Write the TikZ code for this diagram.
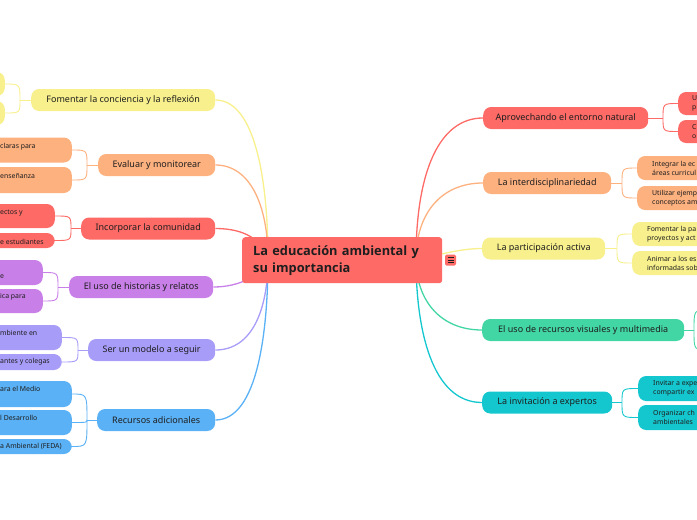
\documentclass[tikz,border=0pt]{standalone}
\usepackage{fontspec}
\setmainfont{Noto Sans}
\newfontfamily\titlefont{Open Sans}
\usetikzlibrary{backgrounds}
\definecolor{cred}{HTML}{FE6A66}
\definecolor{corg}{HTML}{FDB17F}
\definecolor{cyel}{HTML}{F7F08C}
\definecolor{cpur}{HTML}{C880E8}
\definecolor{clav}{HTML}{A79CF8}
\definecolor{cblu}{HTML}{5BB1F5}
\definecolor{cgrn}{HTML}{42D6A4}
\definecolor{ccya}{HTML}{14C7CF}
\definecolor{txt}{HTML}{1E1E1E}
\begin{document}
\begin{tikzpicture}[x=1pt,y=-1pt,
  mainbox/.style={rounded corners=8pt, inner sep=0pt, font=\fontsize{9}{11}\selectfont, text=txt, minimum height=22pt, anchor=west},
  leafbox/.style={rounded corners=8pt, inner sep=0pt, minimum width=150pt},
  frag/.style={font=\fontsize{6.9}{9}\selectfont, text=txt, inner sep=0pt, align=left},
  bline/.style={line width=1.3pt},
  lline/.style={line width=0.9pt}]
\useasboundingbox (0,0) rectangle (697,520);

% central node
\node[fill=cred, rounded corners=3pt, minimum width=200pt, minimum height=46pt, text width=178pt, inner xsep=11pt, align=left, anchor=north west, font=\titlefont\bfseries\fontsize{12.8}{17}\selectfont, text=txt] (center) at (242,237) {La educación ambiental y\\su importancia};
\coordinate (hubL) at (268,259);
\coordinate (hubR) at (416,259);
\node[fill=cred, rounded corners=1.5pt, minimum size=11pt, inner sep=0pt] (icon) at (450.5,260) {};
\draw[line width=0.7pt, txt] (icon.center) ++(-3,-2.5) -- ++(6,0);
\draw[line width=0.7pt, txt] (icon.center) ++(-3,0) -- ++(6,0);
\draw[line width=0.7pt, txt] (icon.center) ++(-3,2.5) -- ++(6,0);

% ---------- left main nodes ----------
\node[mainbox, fill=cyel, minimum width=184pt] (yM) at (31,100) {Fomentar la conciencia y la reflexión};
\node[mainbox, fill=corg, minimum width=117pt] (oM) at (98,165) {Evaluar y monitorear};
\node[mainbox, fill=cred, minimum width=134pt] (rM) at (81,228.5) {Incorporar la comunidad};
\node[mainbox, fill=cpur, minimum width=144pt] (pM) at (69,287) {El uso de historias y relatos};
\node[mainbox, fill=clav, minimum width=127pt] (vM) at (88,350) {Ser un modelo a seguir};
\node[mainbox, fill=cblu, minimum width=118pt] (bM) at (97,420) {Recursos adicionales};

% ---------- right main nodes ----------
\node[mainbox, fill=cred, minimum width=165pt] (aM) at (483,118) {Aprovechando el entorno natural};
\node[mainbox, fill=corg, minimum width=128pt] (iM) at (483,183) {La interdisciplinariedad};
\node[mainbox, fill=cyel, minimum width=123pt] (yaM) at (482,248.5) {La participación activa};
\node[mainbox, fill=cgrn, minimum width=202pt] (gM) at (482,330) {El uso de recursos visuales y multimedia};
\node[mainbox, fill=ccya, minimum width=130pt] (cM) at (482,402.5) {La invitación a expertos};

% ---------- left leaves ----------
\node[leafbox, fill=cyel, minimum height=24pt, anchor=east] (yL1) at (5,84) {};
\node[leafbox, fill=cyel, minimum height=24pt, anchor=east] (yL2) at (5,113) {};

\node[leafbox, fill=corg, minimum height=25pt, anchor=east] (oL1) at (72,150) {};
\node[leafbox, fill=corg, minimum height=26pt, anchor=east] (oL2) at (72,180) {};
\node[frag, anchor=west] (oT1) at (0,147) {claras para};
\node[frag, anchor=west] (oT2) at (0,176) {enseñanza};

\node[leafbox, fill=cred, minimum height=24pt, anchor=east] (rL1) at (55,216) {};
\node[leafbox, fill=cred, minimum height=15pt, anchor=east] (rL2) at (55,240.5) {};
\node[frag, anchor=west] (rT1) at (0,213) {ectos y};
\node[frag, anchor=west] (rT2) at (0,241.5) {e estudiantes};

\node[leafbox, fill=cpur, minimum height=25pt, anchor=east] (pL1) at (43,272.5) {};
\node[leafbox, fill=cpur, minimum height=24pt, anchor=east] (pL2) at (43,301) {};
\node[frag, anchor=west] (pT1) at (0,277) {e};
\node[frag, anchor=west] (pT2) at (0,297) {ica para};

\node[leafbox, fill=clav, minimum height=25pt, anchor=east] (vL1) at (62,337.5) {};
\node[leafbox, fill=clav, minimum height=16pt, anchor=east] (vL2) at (62,362) {};
\node[frag, anchor=west] (vT1) at (0,333) {mbiente en};
\node[frag, anchor=west] (vT2) at (0,362) {antes y colegas};

\node[leafbox, fill=cblu, minimum height=26pt, anchor=east] (bL1) at (72,394) {};
\node[leafbox, fill=cblu, minimum height=25pt, anchor=east] (bL2) at (72,422.5) {};
\node[leafbox, fill=cblu, minimum height=15pt, anchor=east] (bL3) at (72,446.5) {};
\node[frag, anchor=west] (bT1) at (0,389) {ara el Medio};
\node[frag, anchor=west] (bT2) at (0,418) {l Desarrollo};
\node[frag, anchor=west] (bT3) at (0,446.5) {a Ambiental (FEDA)};

% ---------- right leaves ----------
\node[leafbox, fill=cred, minimum height=23pt, anchor=west] (aL1) at (678,103.5) {};
\node[leafbox, fill=cred, minimum height=23pt, anchor=west] (aL2) at (678,131.5) {};
\node[frag, anchor=west] (aT1) at (692,103.5) {U\\p};
\node[frag, anchor=west] (aT2) at (692,131.5) {C\\o};

\node[leafbox, fill=corg, minimum height=24pt, anchor=west] (iL1) at (637,168) {};
\node[leafbox, fill=corg, minimum height=24pt, anchor=west] (iL2) at (637,198) {};
\node[frag, anchor=west] (iT1) at (652,168) {Integrar la ec\\áreas curricul};
\node[frag, anchor=west] (iT2) at (652,198) {Utilizar ejemp\\conceptos am};

\node[leafbox, fill=cyel, minimum height=24pt, anchor=west] (yaL1) at (632,234) {};
\node[leafbox, fill=cyel, minimum height=24pt, anchor=west] (yaL2) at (632,263) {};
\node[frag, anchor=west] (yaT1) at (647,234) {Fomentar la pa\\proyectos y act};
\node[frag, anchor=west] (yaT2) at (647,263) {Animar a los es\\informadas sob};

\node[leafbox, fill=cgrn, minimum height=24pt, anchor=west] (gL1) at (708,310) {};
\node[leafbox, fill=cgrn, minimum height=24pt, anchor=west] (gL2) at (708,350) {};

\node[leafbox, fill=ccya, minimum height=25pt, anchor=west] (cL1) at (638,388.5) {};
\node[leafbox, fill=ccya, minimum height=25pt, anchor=west] (cL2) at (638,417.5) {};
\node[frag, anchor=west] (cT1) at (653,388.5) {Invitar a expe\\compartir ex};
\node[frag, anchor=west] (cT2) at (653,417.5) {Organizar ch\\ambientales};

% ---------- connectors ----------
\begin{scope}[on background layer]
% center to left
\draw[bline, cyel] (yM.east) .. controls (255,100) and (268,180) .. (hubL);
\draw[bline, corg] (oM.east) .. controls (250,165) and (268,205) .. (hubL);
\draw[bline, cred] (rM.east) .. controls (245,228.5) and (262,240) .. (hubL);
\draw[bline, cpur] (pM.east) .. controls (240,287) and (262,275) .. (hubL);
\draw[bline, clav] (vM.east) .. controls (252,350) and (268,310) .. (hubL);
\draw[bline, cblu] (bM.east) .. controls (258,420) and (268,330) .. (hubL);
% center to right
\draw[bline, cred] (aM.west) .. controls (440,118) and (416,170) .. (hubR);
\draw[bline, corg] (iM.west) .. controls (440,183) and (416,215) .. (hubR);
\draw[bline, cyel] (yaM.west) .. controls (460,248.5) and (440,255) .. (hubR);
\draw[bline, cgrn] (gM.west) .. controls (440,330) and (416,300) .. (hubR);
\draw[bline, ccya] (cM.west) .. controls (432,402.5) and (416,330) .. (hubR);
\end{scope}

% left leaf brackets
\coordinate (yJ) at (20,100);
\draw[lline, cyel] (yM.west) -- (yJ);
\draw[lline, cyel] (yJ) .. controls (yJ |- yL1.east) .. (yL1.east);
\draw[lline, cyel] (yJ) .. controls (yJ |- yL2.east) .. (yL2.east);

\coordinate (oJ) at (87,165);
\draw[lline, corg] (oM.west) -- (oJ);
\draw[lline, corg] (oJ) .. controls (oJ |- oL1.east) .. (oL1.east);
\draw[lline, corg] (oJ) .. controls (oJ |- oL2.east) .. (oL2.east);

\coordinate (rJ) at (71,228.5);
\draw[lline, cred] (rM.west) -- (rJ);
\draw[lline, cred] (rJ) .. controls (rJ |- rL1.east) .. (rL1.east);
\draw[lline, cred] (rJ) .. controls (rJ |- rL2.east) .. (rL2.east);

\coordinate (pJ) at (58,287);
\draw[lline, cpur] (pM.west) -- (pJ);
\draw[lline, cpur] (pJ) .. controls (pJ |- pL1.east) .. (pL1.east);
\draw[lline, cpur] (pJ) .. controls (pJ |- pL2.east) .. (pL2.east);

\coordinate (vJ) at (78,350);
\draw[lline, clav] (vM.west) -- (vJ);
\draw[lline, clav] (vJ) .. controls (vJ |- vL1.east) .. (vL1.east);
\draw[lline, clav] (vJ) .. controls (vJ |- vL2.east) .. (vL2.east);

\coordinate (bJ) at (87,420);
\draw[lline, cblu] (bM.west) -- (bJ);
\draw[lline, cblu] (bJ) .. controls (bJ |- bL1.east) .. (bL1.east);
\draw[lline, cblu] (bJ) .. controls (bJ |- bL2.east) .. (bL2.east);
\draw[lline, cblu] (bJ) .. controls (bJ |- bL3.east) .. (bL3.east);

% right leaf brackets
\coordinate (aJ) at (663,118);
\draw[lline, cred] (aM.east) -- (aJ);
\draw[lline, cred] (aJ) .. controls (aJ |- aL1.west) .. (aL1.west);
\draw[lline, cred] (aJ) .. controls (aJ |- aL2.west) .. (aL2.west);

\coordinate (iJ) at (622,183);
\draw[lline, corg] (iM.east) -- (iJ);
\draw[lline, corg] (iJ) .. controls (iJ |- iL1.west) .. (iL1.west);
\draw[lline, corg] (iJ) .. controls (iJ |- iL2.west) .. (iL2.west);

\coordinate (yaJ) at (617,248.5);
\draw[lline, cyel] (yaM.east) -- (yaJ);
\draw[lline, cyel] (yaJ) .. controls (yaJ |- yaL1.west) .. (yaL1.west);
\draw[lline, cyel] (yaJ) .. controls (yaJ |- yaL2.west) .. (yaL2.west);

\coordinate (gJ) at (694,330);
\draw[lline, cgrn] (gM.east) -- (gJ);
\draw[lline, cgrn] (gJ) .. controls (gJ |- gL1.west) .. (gL1.west);
\draw[lline, cgrn] (gJ) .. controls (gJ |- gL2.west) .. (gL2.west);

\coordinate (cJ) at (622,402.5);
\draw[lline, ccya] (cM.east) -- (cJ);
\draw[lline, ccya] (cJ) .. controls (cJ |- cL1.west) .. (cL1.west);
\draw[lline, ccya] (cJ) .. controls (cJ |- cL2.west) .. (cL2.west);
\end{tikzpicture}
\end{document}
